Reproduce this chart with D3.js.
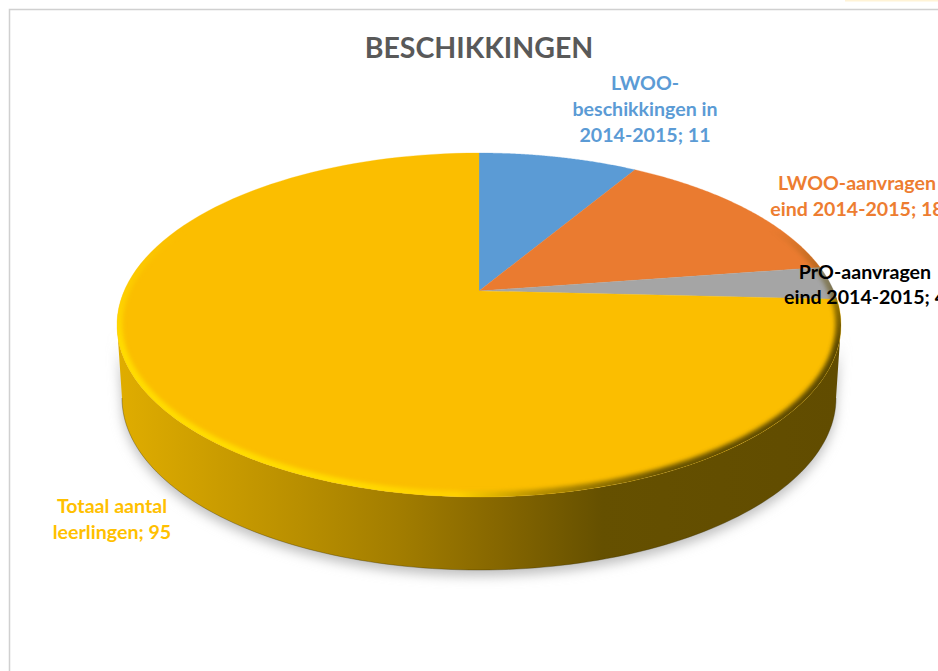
<!DOCTYPE html>
<html>
<head>
<meta charset="utf-8">
<script src="https://cdn.jsdelivr.net/npm/d3@7"></script>
<style>
html, body { margin: 0; padding: 0; background: #fff; overflow: hidden; }
svg { display: block; font-family: Lato, Carlito, sans-serif; font-weight: 700; }
</style>
</head>
<body>
<svg id="chart" width="938" height="671"></svg>
<script>
// chart data
const categories = ['LWOO-beschikkingen in 2014-2015', 'LWOO-aanvragen eind 2014-2015', 'PrO-aanvragen eind 2014-2015', 'Totaal aantal leerlingen'];
const values = [11, 18, 4, 95];
const sliceColors = ['#5b9bd5', '#ea7b30', '#a5a5a5', '#fbbe00'];
const labelColors = ['#5b9bd5', '#ed7d31', '#000000', '#ffc000'];
const labelLines = [
    ['LWOO-', 'beschikkingen in', '2014-2015; 11'],
    ['LWOO-aanvragen', 'eind 2014-2015; 18'],
    ['PrO-aanvragen', 'eind 2014-2015; 4'],
    ['Totaal aantal', 'leerlingen; 95']
];
const titleText = 'BESCHIKKINGEN';

// layout
const labelPos = [[645, 90], [857, 190], [865, 279], [112, 513]];
const lineGap = [26, 26, 25, 26];
const depth = 73;
const tilt = -0.198; // how far the pie centre sits above the ellipse centre

const svg = d3.select('#chart');
const defs = svg.append('defs');

// scales from the unit disk to the screen
const scaleX = d3.scaleLinear().domain([-1, 1]).range([117, 841]);
const scaleY = d3.scaleLinear().domain([-1, 1]).range([153, 497]);
const baseX = d3.scaleLinear().domain([-1, 1]).range([122, 836]);
const baseY = d3.scaleLinear().domain([-1, 1]).range([153 + depth, 497 + depth]);

// perspective: circle stays a circle, its centre moves up
function project(a, r) {
    const u = r * Math.sin(a);
    const v = -r * Math.cos(a);
    const w = 1 + tilt * v;
    return [u * Math.sqrt(1 - tilt * tilt) / w, (v + tilt) / w];
}

const line = d3.line();
const steps = a0 => d3.range(0, 121).map(i => a0[0] + (a0[1] - a0[0]) * i / 120);

const rimPath = line(steps([0, 2 * Math.PI]).map(a => [scaleX(Math.sin(a)), scaleY(-Math.cos(a))])) + 'Z';

// side wall goes along the front of the top and back along the base
const front = steps([Math.PI / 2, 3 * Math.PI / 2]);
const basePts = front.map(a => [baseX(Math.sin(a)), baseY(-Math.cos(a))]);
const wallPts = front.map(a => [scaleX(Math.sin(a)), scaleY(-Math.cos(a))])
    .concat(basePts.slice().reverse());

// gradients and filters
const wallGrad = defs.append('linearGradient').attr('id', 'wallGrad')
    .attr('gradientUnits', 'userSpaceOnUse')
    .attr('x1', 117).attr('x2', 841).attr('y1', 0).attr('y2', 0);
[[0, '#e0ad00'], [0.25, '#b98f00'], [0.39, '#a27d00'], [0.53, '#856600'], [0.67, '#655000'], [1, '#614c00']]
    .forEach(s => wallGrad.append('stop').attr('offset', s[0]).attr('stop-color', s[1]));

const rimGrad = defs.append('linearGradient').attr('id', 'rimGrad')
    .attr('gradientUnits', 'userSpaceOnUse')
    .attr('x1', 117).attr('x2', 841).attr('y1', 0).attr('y2', 0);
[[0, '#ffdc00'], [0.3, '#ffdc00'], [0.47, '#ffd000'], [0.58, '#b89000'], [0.75, '#6a5400'], [1, '#5a4700']]
    .forEach(s => rimGrad.append('stop').attr('offset', s[0]).attr('stop-color', s[1]));

const rimFade = defs.append('linearGradient').attr('id', 'rimFade')
    .attr('gradientUnits', 'userSpaceOnUse')
    .attr('x1', 0).attr('x2', 0).attr('y1', 230).attr('y2', 345);
rimFade.append('stop').attr('offset', 0).attr('stop-color', '#000');
rimFade.append('stop').attr('offset', 1).attr('stop-color', '#fff');
defs.append('mask').attr('id', 'rimMask')
    .attr('maskUnits', 'userSpaceOnUse')
    .attr('x', 0).attr('y', 0).attr('width', 938).attr('height', 671)
    .append('rect').attr('width', 938).attr('height', 671).attr('fill', 'url(#rimFade)');

defs.append('filter').attr('id', 'soft').attr('x', '-5%').attr('y', '-5%').attr('width', '110%').attr('height', '110%')
    .append('feGaussianBlur').attr('stdDeviation', 6);
defs.append('filter').attr('id', 'bevel').attr('x', '-5%').attr('y', '-5%').attr('width', '110%').attr('height', '110%')
    .append('feGaussianBlur').attr('stdDeviation', 2.2);
defs.append('clipPath').attr('id', 'topClip').append('path').attr('d', rimPath);

// chart frame
svg.append('rect').attr('x', 0).attr('y', 0).attr('width', 938).attr('height', 671).attr('fill', '#fff');
svg.append('path').attr('d', 'M9.5,671V9.5H938').attr('fill', 'none').attr('stroke', '#d0d0d0').attr('stroke-width', 1.5);
svg.append('rect').attr('x', 845).attr('y', 0).attr('width', 93).attr('height', 1.5).attr('fill', '#fff3d6');

// shadow under the pie
svg.append('path')
    .attr('d', line(wallPts) + 'Z')
    .attr('transform', 'translate(0,6)')
    .attr('fill', '#c0c0c0')
    .attr('filter', 'url(#soft)');

// side wall
svg.append('path').attr('d', line(wallPts) + 'Z').attr('fill', 'url(#wallGrad)');
svg.append('path').attr('d', line(basePts)).attr('fill', 'none')
    .attr('stroke', '#3a2d00').attr('stroke-opacity', 0.35).attr('stroke-width', 1);

// top slices
const arcs = d3.pie().sort(null).value(d => d)(values);
svg.append('g').selectAll('path')
    .data(arcs)
    .join('path')
    .attr('d', d => {
        const pts = steps([d.startAngle, d.endAngle]).map(a => project(a, 1));
        return line([[0, tilt]].concat(pts).map(p => [scaleX(p[0]), scaleY(p[1])])) + 'Z';
    })
    .attr('fill', (d, i) => sliceColors[i])
    .attr('stroke', (d, i) => sliceColors[i])
    .attr('stroke-width', 0.3);

// bevel on the rim, only on the front half
svg.append('g').attr('clip-path', 'url(#topClip)')
    .append('g').attr('mask', 'url(#rimMask)')
    .append('path')
    .attr('d', rimPath)
    .attr('fill', 'none')
    .attr('stroke', 'url(#rimGrad)')
    .attr('stroke-width', 11)
    .attr('filter', 'url(#bevel)');

// title
svg.append('text')
    .attr('x', 479).attr('y', 58)
    .attr('text-anchor', 'middle')
    .attr('font-size', 28.5)
    .attr('fill', '#595959')
    .text(titleText);

// slice labels
const labels = svg.append('g').selectAll('text')
    .data(categories)
    .join('text')
    .attr('text-anchor', 'middle')
    .attr('font-size', 19.6)
    .attr('fill', (d, i) => labelColors[i])
    .attr('aria-label', d => d);
labels.each(function(d, i) {
    d3.select(this).selectAll('tspan')
        .data(labelLines[i])
        .join('tspan')
        .attr('x', labelPos[i][0])
        .attr('y', (t, j) => labelPos[i][1] + j * lineGap[i])
        .text(t => t);
});
</script>
</body>
</html>
